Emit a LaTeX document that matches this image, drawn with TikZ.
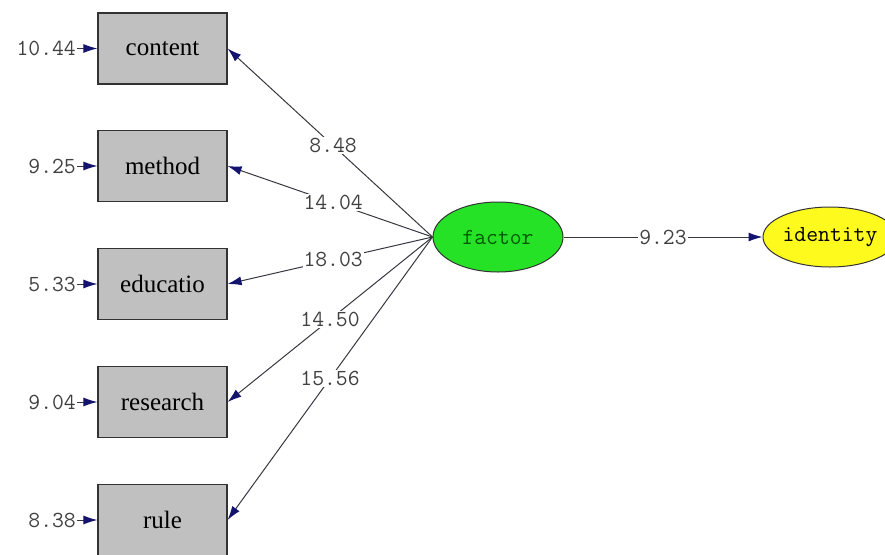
\documentclass[tikz,border=0pt]{standalone}
\usepackage{fontspec}
\setmainfont{Liberation Serif}
\usetikzlibrary{arrows.meta,shapes.geometric}
\definecolor{boxgray}{RGB}{192,192,192}
\definecolor{facgreen}{RGB}{38,226,38}
\definecolor{idyellow}{RGB}{255,250,30}
\definecolor{tipblue}{RGB}{20,20,110}
\definecolor{linegray}{RGB}{55,55,65}
\begin{document}
\begin{tikzpicture}[x=1pt,y=-1pt,
  box/.style={draw=black!80,line width=1.2pt,fill=boxgray,minimum width=129pt,minimum height=71pt,inner sep=0pt,font=\fontsize{25}{27}\selectfont},
  latent/.style={ellipse,draw=black!80,line width=1pt,inner sep=0pt,font=\ttfamily\fontsize{23}{25}\selectfont},
  num/.style={font=\ttfamily\fontsize{23}{25}\selectfont,text=black!75,inner sep=1pt},
  lbl/.style={num,fill=white,pos=0.485},
  load/.style={draw=linegray,line width=1pt,-{Latex[length=14pt,width=9pt,color=tipblue]}}]

\useasboundingbox (0,0) rectangle (885,554);
  \node[latent,fill=facgreen,minimum width=130pt,minimum height=70pt,text=green!35!black] (n1) at (498,237) {factor};
  \node[latent,fill=idyellow,minimum width=126pt,minimum height=60pt] (n2) at (830,237) {identity};
  \node[box] (n31) at (162.5,48.5) {content};
  \node[box] (n32) at (162.5,166) {method};
  \node[box] (n33) at (162.5,284) {educatio};
  \node[box] (n34) at (162.5,402) {research};
  \node[box] (n35) at (162.5,520) {rule};
  \node[num,anchor=east] (e1) at (77,48.5) {10.44};
  \node[num,anchor=east] (e2) at (77,166) {9.25};
  \node[num,anchor=east] (e3) at (77,284) {5.33};
  \node[num,anchor=east] (e4) at (77,402) {9.04};
  \node[num,anchor=east] (e5) at (77,520) {8.38};
  \draw[load] (e1.east) -- (n31.west);
  \draw[load] (e2.east) -- (n32.west);
  \draw[load] (e3.east) -- (n33.west);
  \draw[load] (e4.east) -- (n34.west);
  \draw[load] (e5.east) -- (n35.west);
  \draw[load] (n1.west) -- node[lbl] {8.48} (n31.east);
  \draw[load] (n1.west) -- node[lbl] {14.04} (n32.east);
  \draw[load] (n1.west) -- node[lbl] {18.03} (n33.east);
  \draw[load] (n1.west) -- node[lbl,pos=0.5] {14.50} (n34.east);
  \draw[load] (n1.west) -- node[lbl,pos=0.5] {15.56} (n35.east);
  \draw[load] (n1.east) -- node[lbl,pos=0.5] {9.23} (n2.west);
 \end{tikzpicture}
\end{document}
